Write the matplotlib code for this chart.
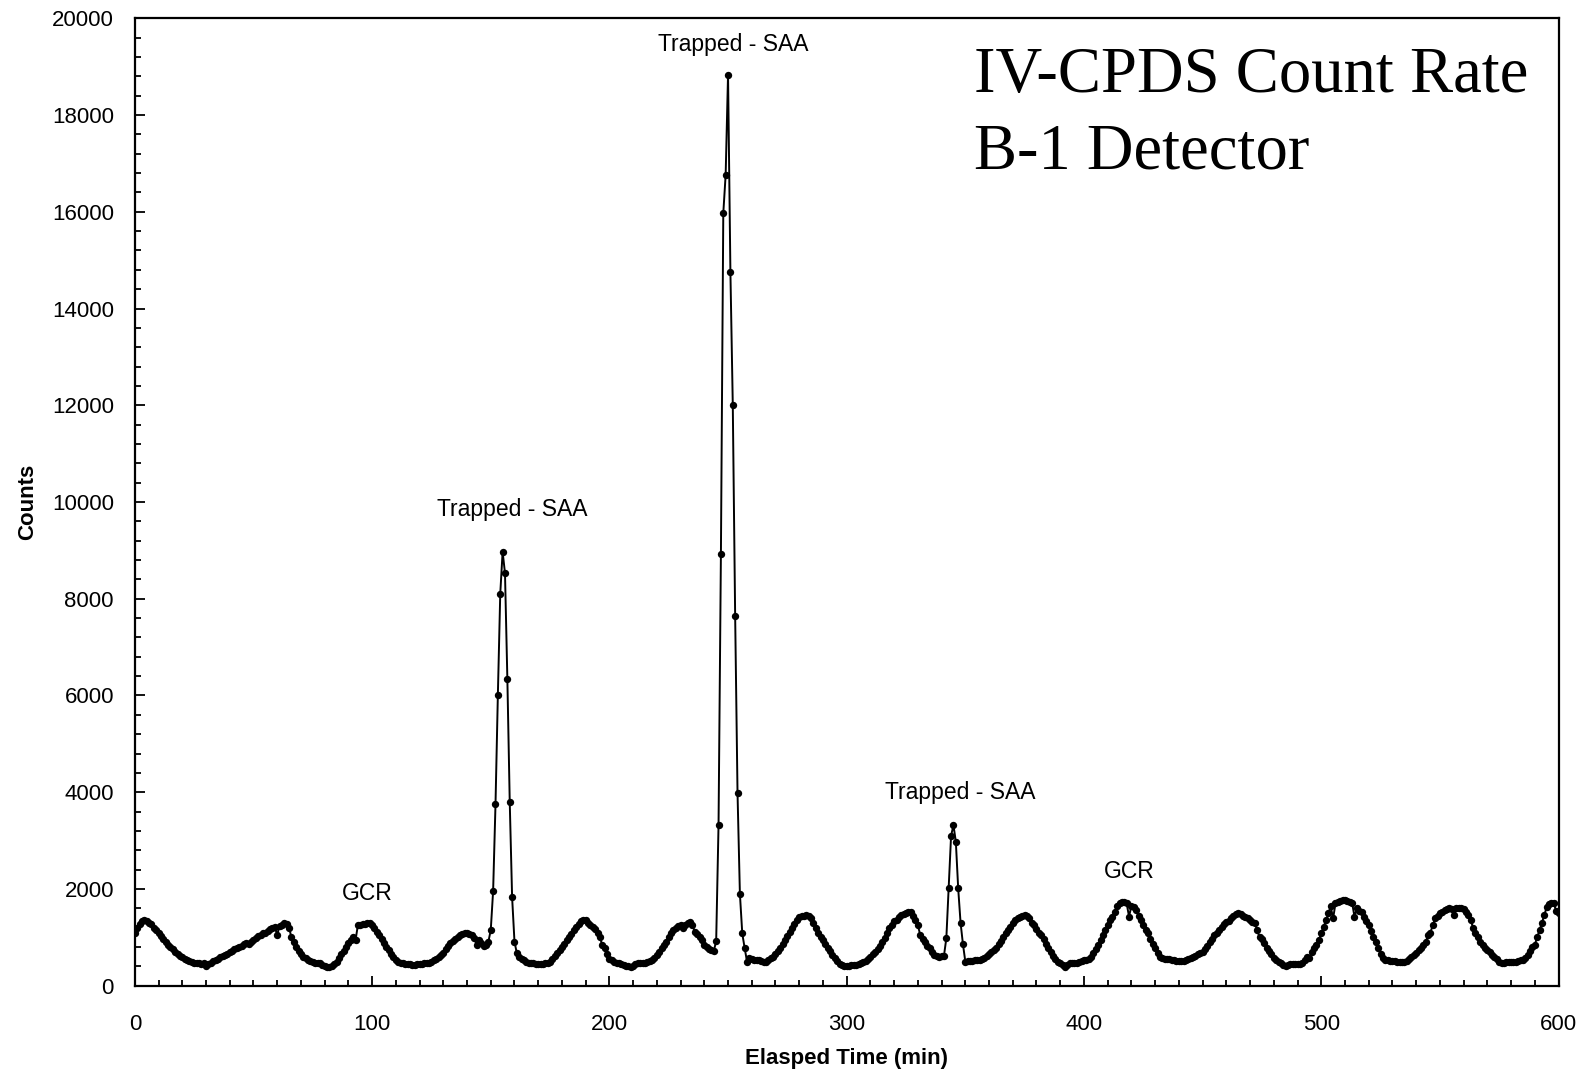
import numpy as np
import matplotlib
matplotlib.use('Agg')
import matplotlib.pyplot as plt
from matplotlib.ticker import MultipleLocator

# Count rate, one sample per minute (rows of 10 min)
counts = [
    1100, 1200, 1280, 1330, 1360, 1340, 1300, 1280, 1200, 1150,
    1100, 1020, 960, 900, 840, 800, 750, 700, 650, 620,
    590, 560, 530, 510, 490, 480, 470, 460, 440, 470,
    410, 450, 480, 520, 540, 560, 590, 610, 640, 660,
    700, 720, 750, 770, 800, 830, 860, 880, 870, 900,
    940, 980, 1030, 1050, 1080, 1100, 1140, 1170, 1190, 1210,
    1050, 1230, 1260, 1300, 1280, 1200, 1000, 900, 800, 720,
    650, 600, 570, 540, 510, 500, 480, 470, 460, 430,
    400, 390, 390, 400, 440, 500, 580, 650, 720, 800,
    880, 950, 1000, 940, 1250, 1260, 1270, 1280, 1300, 1290,
    1260, 1200, 1120, 1040, 960, 880, 800, 730, 660, 600,
    540, 500, 470, 460, 450, 440, 440, 430, 430, 440,
    440, 450, 460, 470, 480, 500, 530, 560, 600, 640,
    680, 750, 820, 880, 930, 960, 1000, 1040, 1070, 1090,
    1080, 1060, 1040, 980, 850, 940, 880, 830, 850, 910,
    1150, 1960, 3750, 6020, 8100, 8970, 8530, 6340, 3800, 1830,
    910, 670, 600, 560, 530, 500, 480, 470, 460, 450,
    440, 440, 450, 460, 460, 500, 550, 610, 670, 730,
    800, 860, 940, 1000, 1060, 1150, 1220, 1280, 1330, 1360,
    1350, 1300, 1260, 1220, 1180, 1100, 1000, 840, 770, 650,
    560, 530, 500, 480, 460, 450, 430, 410, 400, 380,
    400, 440, 460, 470, 460, 480, 500, 510, 530, 580,
    640, 700, 780, 850, 910, 1000, 1090, 1150, 1200, 1240,
    1260, 1190, 1260, 1290, 1310, 1250, 1120, 1060, 1000, 950,
    850, 800, 760, 730, 720, 920, 3330, 8930, 15970, 16770,
    18830, 14760, 12010, 7650, 3980, 1900, 1080, 780, 500, 580,
    560, 540, 540, 530, 520, 500, 500, 530, 570, 600,
    660, 720, 780, 860, 950, 1030, 1120, 1200, 1270, 1360,
    1420, 1440, 1450, 1460, 1450, 1400, 1300, 1200, 1100, 1000,
    940, 860, 790, 720, 640, 580, 520, 450, 430, 410,
    400, 410, 420, 430, 430, 450, 470, 490, 520, 560,
    600, 650, 700, 760, 830, 900, 980, 1100, 1200, 1260,
    1340, 1350, 1420, 1460, 1480, 1500, 1520, 1530, 1450, 1360,
    1250, 1050, 960, 900, 820, 770, 700, 640, 610, 600,
    610, 620, 980, 2030, 3100, 3320, 2980, 2010, 1300, 860,
    500, 510, 520, 520, 530, 530, 540, 550, 570, 610,
    650, 700, 740, 790, 860, 920, 1000, 1080, 1150, 1220,
    1290, 1350, 1390, 1420, 1450, 1460, 1440, 1400, 1300, 1250,
    1180, 1100, 1050, 960, 860, 780, 700, 620, 560, 500,
    460, 420, 390, 420, 460, 480, 470, 480, 490, 520,
    530, 540, 560, 600, 680, 760, 840, 940, 1050, 1150,
    1250, 1350, 1420, 1530, 1650, 1700, 1730, 1740, 1700, 1430,
    1650, 1630, 1560, 1450, 1360, 1260, 1160, 1080, 960, 860,
    770, 680, 600, 580, 560, 550, 545, 540, 530, 520,
    510, 510, 510, 530, 550, 580, 600, 620, 650, 680,
    700, 760, 830, 900, 960, 1050, 1100, 1150, 1220, 1280,
    1320, 1340, 1390, 1440, 1480, 1500, 1480, 1450, 1430, 1400,
    1350, 1310, 1290, 1150, 1000, 960, 880, 780, 720, 650,
    580, 530, 500, 460, 430, 410, 430, 440, 450, 440,
    450, 450, 470, 530, 600, 570, 700, 780, 840, 950,
    1080, 1220, 1350, 1500, 1640, 1390, 1700, 1730, 1760, 1770,
    1770, 1760, 1730, 1720, 1430, 1600, 1550, 1530, 1420, 1340,
    1250, 1130, 1010, 900, 780, 660, 580, 540, 530, 520,
    510, 510, 500, 500, 500, 500, 520, 550, 590, 630,
    680, 730, 790, 840, 900, 1040, 1100, 1250, 1390, 1450,
    1500, 1530, 1560, 1580, 1600, 1590, 1460, 1600, 1610, 1600,
    1590, 1520, 1460, 1350, 1200, 1100, 1000, 900, 850, 780,
    740, 700, 640, 600, 550, 500, 480, 480, 490, 500,
    500, 490, 500, 510, 530, 540, 580, 640, 720, 800,
    850, 1000, 1150, 1300, 1460, 1620, 1680, 1710, 1700, 1550,
    1500,
]
elapsed = np.arange(len(counts))  # minutes

# event labels and where they sit (time, counts)
labels = ['GCR', 'Trapped - SAA', 'Trapped - SAA', 'Trapped - SAA', 'GCR']
label_t = [98, 159, 252, 348, 419]
label_c = [1900, 9850, 19450, 4000, 2370]

title_lines = ['IV-CPDS Count Rate', 'B-1 Detector']
title_c = [18800, 17230]

plt.rcParams['font.family'] = ['Liberation Sans', 'DejaVu Sans']

fig = plt.figure(figsize=(15.9, 10.76), dpi=100)
ax = fig.add_axes([0.0848, 0.0839, 0.8954, 0.8991])

ax.plot(elapsed, counts, '-', color='black', lw=1.4,
        marker='o', markersize=5.3, markerfacecolor='black', markeredgewidth=0)

for lab, t, c in zip(labels, label_t, label_c):
    ax.text(t, c, lab, ha='center', va='center', fontsize=16.5)

for line, c in zip(title_lines, title_c):
    ax.text(353.5, c, line, ha='left', va='center', fontsize=46.5,
            family=['Liberation Serif', 'DejaVu Serif'])

ax.set_xlim(0, 600)
ax.set_ylim(0, 20000)
ax.xaxis.set_major_locator(MultipleLocator(100))
ax.xaxis.set_minor_locator(MultipleLocator(10))
ax.yaxis.set_major_locator(MultipleLocator(2000))
ax.yaxis.set_minor_locator(MultipleLocator(400))
ax.tick_params(which='both', direction='in', width=1.3, labelsize=16)
ax.tick_params(which='major', length=7)
ax.tick_params(which='minor', length=4.5)
ax.tick_params(axis='x', pad=20)
ax.tick_params(axis='y', pad=15)
for s in ax.spines.values():
    s.set_linewidth(1.6)

ax.set_xlabel('Elasped Time (min)', fontsize=16, fontweight='bold', labelpad=10)
ax.set_ylabel('Counts', fontsize=16, fontweight='bold', labelpad=10)

fig.savefig('out.png', dpi=100)
